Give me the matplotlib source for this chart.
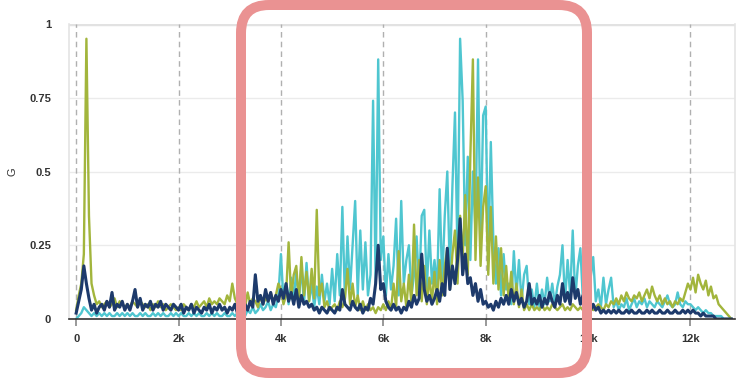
import matplotlib
matplotlib.use("Agg")
import matplotlib.pyplot as plt
import numpy as np
from matplotlib.patches import FancyBboxPatch
from matplotlib.transforms import IdentityTransform

# spectrum magnitude, one value per 50 Hz bin, one row per kHz
green = [
    0.03, 0.08, 0.12, 0.22, 0.95, 0.35, 0.12, 0.08, 0.05, 0.06, 0.04, 0.05, 0.06, 0.04, 0.05, 0.07, 0.04, 0.06, 0.05, 0.04,
    0.05, 0.04, 0.06, 0.05, 0.04, 0.06, 0.05, 0.04, 0.05, 0.03, 0.05, 0.04, 0.06, 0.04, 0.05, 0.03, 0.04, 0.05, 0.04, 0.03,
    0.04, 0.03, 0.05, 0.04, 0.03, 0.05, 0.04, 0.06, 0.04, 0.05, 0.06, 0.04, 0.07, 0.05, 0.06, 0.05, 0.07, 0.06, 0.05, 0.08,
    0.06, 0.12, 0.07, 0.05, 0.08, 0.06, 0.04, 0.09, 0.05, 0.07, 0.06, 0.04, 0.08, 0.05, 0.07, 0.06, 0.09, 0.06, 0.08, 0.12,
    0.10, 0.05, 0.08, 0.26, 0.07, 0.15, 0.18, 0.06, 0.21, 0.08, 0.16, 0.06, 0.17, 0.07, 0.37, 0.08, 0.12, 0.04, 0.06, 0.03,
    0.04, 0.05, 0.03, 0.06, 0.04, 0.07, 0.17, 0.05, 0.12, 0.04, 0.08, 0.03, 0.06, 0.03, 0.05, 0.03, 0.04, 0.02, 0.04, 0.03,
    0.05, 0.03, 0.06, 0.03, 0.12, 0.04, 0.23, 0.06, 0.12, 0.04, 0.15, 0.05, 0.32, 0.08, 0.20, 0.06, 0.18, 0.05, 0.14, 0.06,
    0.16, 0.05, 0.20, 0.08, 0.18, 0.24, 0.10, 0.22, 0.30, 0.12, 0.35, 0.20, 0.42, 0.15, 0.55, 0.88, 0.20, 0.48, 0.18, 0.38,
    0.45, 0.15, 0.38, 0.12, 0.28, 0.10, 0.24, 0.08, 0.18, 0.06, 0.16, 0.05, 0.12, 0.04, 0.10, 0.03, 0.05, 0.03, 0.05, 0.03,
    0.04, 0.03, 0.05, 0.03, 0.04, 0.03, 0.05, 0.04, 0.03, 0.04, 0.05, 0.03, 0.04, 0.03, 0.05, 0.04, 0.03, 0.04, 0.03, 0.04,
    0.03, 0.04, 0.03, 0.04, 0.05, 0.04, 0.03, 0.05, 0.04, 0.06, 0.05, 0.07, 0.05, 0.08, 0.06, 0.09, 0.07, 0.06, 0.08, 0.07,
    0.09, 0.06, 0.08, 0.10, 0.07, 0.11, 0.08, 0.06, 0.08, 0.05, 0.07, 0.05, 0.06, 0.04, 0.06, 0.05, 0.07, 0.06, 0.09, 0.12,
    0.10, 0.14, 0.09, 0.15, 0.12, 0.10, 0.13, 0.08, 0.11, 0.07, 0.08, 0.05, 0.04, 0.03, 0.02, 0.01, 0.00,
]

cyan = [
    0.00, 0.01, 0.02, 0.04, 0.03, 0.02, 0.01, 0.02, 0.01, 0.02, 0.01, 0.02, 0.01, 0.02, 0.01, 0.01, 0.02, 0.01, 0.02, 0.01,
    0.02, 0.01, 0.02, 0.01, 0.01, 0.02, 0.01, 0.02, 0.01, 0.01, 0.02, 0.01, 0.02, 0.01, 0.02, 0.01, 0.01, 0.02, 0.01, 0.02,
    0.01, 0.02, 0.01, 0.01, 0.02, 0.01, 0.02, 0.01, 0.02, 0.01, 0.01, 0.02, 0.01, 0.02, 0.01, 0.02, 0.01, 0.01, 0.02, 0.01,
    0.01, 0.02, 0.01, 0.02, 0.03, 0.02, 0.01, 0.03, 0.02, 0.04, 0.02, 0.03, 0.05, 0.03, 0.04, 0.06, 0.03, 0.05, 0.04, 0.08,
    0.22, 0.06, 0.12, 0.05, 0.14, 0.07, 0.16, 0.06, 0.18, 0.05, 0.19, 0.06, 0.12, 0.04, 0.11, 0.05, 0.15, 0.06, 0.12, 0.05,
    0.17, 0.06, 0.22, 0.08, 0.38, 0.07, 0.28, 0.10, 0.25, 0.40, 0.08, 0.30, 0.10, 0.26, 0.08, 0.15, 0.74, 0.12, 0.88, 0.20,
    0.28, 0.08, 0.22, 0.10, 0.18, 0.34, 0.08, 0.40, 0.12, 0.20, 0.25, 0.08, 0.15, 0.28, 0.10, 0.35, 0.37, 0.10, 0.30, 0.12,
    0.20, 0.10, 0.44, 0.12, 0.35, 0.50, 0.15, 0.45, 0.70, 0.20, 0.95, 0.74, 0.25, 0.55, 0.20, 0.50, 0.30, 0.88, 0.25, 0.69,
    0.72, 0.20, 0.60, 0.26, 0.12, 0.24, 0.08, 0.22, 0.10, 0.12, 0.05, 0.23, 0.08, 0.20, 0.06, 0.15, 0.18, 0.05, 0.10, 0.04,
    0.12, 0.04, 0.10, 0.05, 0.14, 0.06, 0.12, 0.05, 0.11, 0.15, 0.25, 0.06, 0.20, 0.08, 0.30, 0.07, 0.18, 0.24, 0.06, 0.16,
    0.05, 0.14, 0.21, 0.06, 0.10, 0.04, 0.14, 0.05, 0.10, 0.14, 0.04, 0.06, 0.03, 0.05, 0.04, 0.07, 0.03, 0.05, 0.07, 0.04,
    0.06, 0.05, 0.07, 0.04, 0.06, 0.05, 0.04, 0.06, 0.05, 0.04, 0.06, 0.08, 0.05, 0.04, 0.05, 0.09, 0.05, 0.04, 0.06, 0.05,
    0.05, 0.04, 0.03, 0.04, 0.03, 0.02, 0.03, 0.02, 0.02, 0.01, 0.01, 0.01, 0.01, 0.00, 0.00, 0.00, 0.00,
]

navy = [
    0.02, 0.06, 0.10, 0.18, 0.12, 0.07, 0.03, 0.05, 0.02, 0.04, 0.05, 0.03, 0.06, 0.04, 0.09, 0.03, 0.05, 0.04, 0.06, 0.03,
    0.05, 0.03, 0.06, 0.10, 0.04, 0.07, 0.03, 0.05, 0.04, 0.06, 0.03, 0.05, 0.04, 0.06, 0.03, 0.05, 0.04, 0.03, 0.05, 0.04,
    0.03, 0.05, 0.02, 0.04, 0.03, 0.05, 0.02, 0.04, 0.03, 0.02, 0.04, 0.03, 0.05, 0.02, 0.04, 0.03, 0.05, 0.03, 0.04, 0.02,
    0.04, 0.03, 0.05, 0.02, 0.04, 0.03, 0.05, 0.03, 0.06, 0.04, 0.15, 0.06, 0.08, 0.05, 0.10, 0.06, 0.09, 0.05, 0.08, 0.06,
    0.10, 0.07, 0.12, 0.06, 0.09, 0.05, 0.10, 0.04, 0.08, 0.05, 0.06, 0.04, 0.05, 0.03, 0.04, 0.02, 0.04, 0.03, 0.02, 0.04,
    0.03, 0.02, 0.04, 0.03, 0.10, 0.05, 0.04, 0.03, 0.06, 0.04, 0.03, 0.05, 0.02, 0.04, 0.03, 0.07, 0.05, 0.12, 0.25, 0.10,
    0.12, 0.06, 0.04, 0.03, 0.05, 0.03, 0.04, 0.02, 0.04, 0.03, 0.06, 0.04, 0.08, 0.05, 0.07, 0.22, 0.10, 0.06, 0.08, 0.05,
    0.07, 0.10, 0.06, 0.12, 0.08, 0.24, 0.10, 0.18, 0.12, 0.20, 0.34, 0.15, 0.22, 0.12, 0.14, 0.08, 0.12, 0.06, 0.10, 0.05,
    0.06, 0.04, 0.05, 0.03, 0.06, 0.04, 0.07, 0.05, 0.08, 0.05, 0.10, 0.06, 0.09, 0.05, 0.07, 0.04, 0.06, 0.12, 0.05, 0.07,
    0.05, 0.08, 0.04, 0.07, 0.05, 0.09, 0.06, 0.04, 0.08, 0.05, 0.12, 0.06, 0.09, 0.05, 0.14, 0.07, 0.10, 0.05, 0.08, 0.04,
    0.06, 0.03, 0.05, 0.03, 0.04, 0.02, 0.03, 0.02, 0.03, 0.02, 0.03, 0.02, 0.03, 0.02, 0.02, 0.03, 0.02, 0.03, 0.02, 0.02,
    0.03, 0.02, 0.02, 0.03, 0.02, 0.03, 0.02, 0.02, 0.03, 0.02, 0.02, 0.03, 0.02, 0.02, 0.03, 0.02, 0.02, 0.03, 0.02, 0.03,
    0.02, 0.03, 0.02, 0.02, 0.01, 0.02, 0.01, 0.01, 0.01, 0.01, 0.00, 0.00, 0.00, 0.00, 0.00, 0.00, 0.00,
]

bin_hz = 50
xticks = [0, 2000, 4000, 6000, 8000, 10000, 12000]
xtick_labels = ["0", "2k", "4k", "6k", "8k", "10k", "12k"]
yticks = [0, 0.25, 0.5, 0.75, 1]
ytick_labels = ["0", "0.25", "0.5", "0.75", "1"]

plt.rcParams['font.family'] = ['Liberation Sans', 'DejaVu Sans']

freq = np.arange(len(green)) * bin_hz

fig = plt.figure(figsize=(7.47, 3.79), dpi=100)
ax = fig.add_axes([69 / 747, 1 - 319 / 379, (735 - 69) / 747, (319 - 24) / 379])

ax.plot(freq, cyan, color="#4fc6d0", lw=1.7, zorder=3)
ax.plot(freq, green, color="#a2b53c", lw=1.7, zorder=4)
ax.plot(freq, navy, color="#1d3a6b", lw=2.2, zorder=5)

ax.set_xlim(-140, 12870)
ax.set_ylim(0, 1)

ax.set_xticks(xticks)
ax.set_xticklabels(xtick_labels)
ax.set_yticks(yticks)
ax.set_yticklabels(ytick_labels)

for y in yticks[1:4]:
    ax.axhline(y, color="#ebebeb", lw=1, zorder=1)
ax.axhline(1, color="#e2e2e2", lw=2.5, zorder=1)
for x in xticks:
    ax.axvline(x, color="#b0b0b0", lw=1, ls=(0, (4, 3)), zorder=1)

for side in ["left", "right", "top"]:
    ax.spines[side].set_color("#e4e4e4")
    ax.spines[side].set_linewidth(1.2)
ax.spines["top"].set_visible(False)
ax.spines["bottom"].set_color("#333333")
ax.spines["bottom"].set_linewidth(1.2)
ax.spines["bottom"].set_zorder(6)

ax.tick_params(axis="y", length=0, pad=13, labelsize=8, labelcolor="#333333")
ax.tick_params(axis="x", length=5, width=1.2, color="#888888", pad=6,
               labelsize=8, labelcolor="#333333")
for lbl in ax.get_xticklabels() + ax.get_yticklabels():
    lbl.set_fontweight("bold")

ax.set_ylabel("G", fontsize=8, color="#333333", labelpad=8)

# highlight box drawn in pixel coordinates
box = FancyBboxPatch((241, 6), 587 - 241, 368,
                     boxstyle="round,pad=0,rounding_size=28",
                     transform=IdentityTransform(), fill=False,
                     edgecolor="#ea9292", lw=7.2, zorder=20)
fig.patches.append(box)

fig.savefig("out.png", dpi=100)
